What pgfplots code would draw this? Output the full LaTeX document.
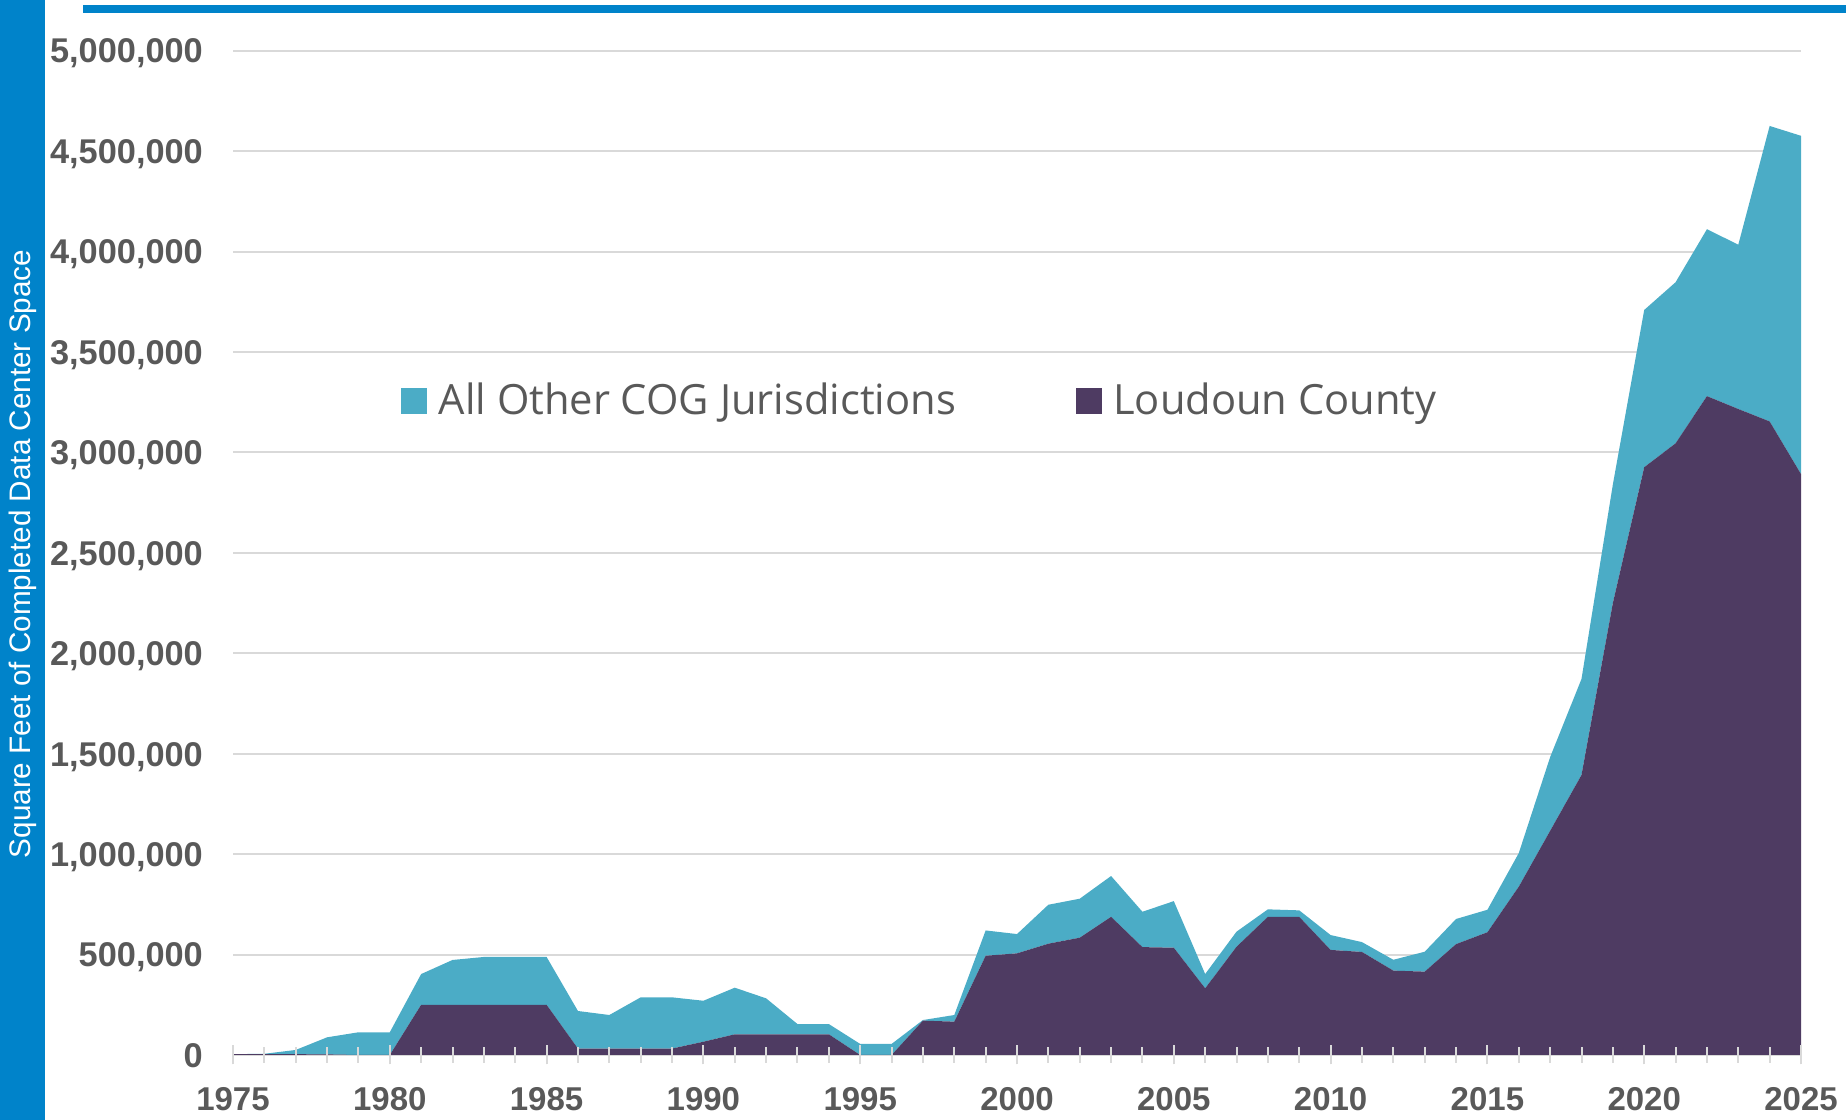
\documentclass[border=0pt]{standalone}
\usepackage{pgfplots}
\pgfplotsset{compat=1.18}
\usepackage{pgfplotstable}
\usepackage{fontspec}
\setmainfont{Liberation Sans}
\newfontfamily\legendfont{Open Sans}
\definecolor{tealc}{HTML}{4BACC6}
\definecolor{purp}{HTML}{4E3B62}
\definecolor{stripblue}{HTML}{0083CA}
\definecolor{gridg}{HTML}{D9D9D9}
\definecolor{txtg}{HTML}{595959}

\pgfplotstableread{
year loudoun other
1975 4000 0
1976 4000 2000
1977 4000 21000
1978 3000 85000
1979 0 113000
1980 0 113000
1981 250000 153000
1982 250000 223000
1983 250000 238000
1984 250000 238000
1985 250000 238000
1986 32000 187000
1987 32000 167000
1988 32000 255000
1989 32000 255000
1990 66000 204000
1991 103000 232000
1992 103000 179000
1993 103000 51000
1994 103000 51000
1995 0 55000
1996 0 55000
1997 171000 3000
1998 166000 33000
1999 494000 126000
2000 506000 96000
2001 554000 194000
2002 584000 194000
2003 688000 203000
2004 537000 176000
2005 534000 232000
2006 332000 71000
2007 539000 75000
2008 688000 37000
2009 688000 32000
2010 523000 74000
2011 513000 49000
2012 420000 54000
2013 415000 99000
2014 552000 125000
2015 611000 112000
2016 838000 167000
2017 1116000 367000
2018 1394000 478000
2019 2250000 590000
2020 2926000 783000
2021 3045000 802000
2022 3280000 831000
2023 3216000 818000
2024 3154000 1471000
2025 2892000 1684000
}\data

\pgfplotsset{
 myframe/.style={
  at={(69.9pt,19.5pt)}, anchor=south west,
  scale only axis, width=470.4pt, height=301.3pt,
  xmin=1975, xmax=2025, ymin=0, ymax=5000000,
  axis lines*=left,
  y axis line style={draw=none},
  xtick={1975,1980,1985,1990,1995,2000,2005,2010,2015,2020,2025},
  minor x tick num=4,
  tick align=center,
  xtick style={gridg, line width=0.6pt},
  major tick length=5.7pt, minor tick length=4.8pt,
 }
}

\begin{document}
\begin{tikzpicture}
\path[use as bounding box] (0pt,0pt) rectangle (553.8pt,336pt);
\fill[stripblue] (0pt,0pt) rectangle (13.5pt,336pt);
\fill[stripblue] (24.9pt,332pt) rectangle (553.8pt,334.4pt);
\node[rotate=90, text=white, font=\fontsize{8.9}{10}\selectfont, inner sep=0pt] at (6.9pt,169.8pt) {Square Feet of Completed Data Center Space};
\begin{axis}[
 myframe,
 stack plots=y,
 x axis line style={-, gridg, line width=0.6pt},
 ytick={0,500000,1000000,1500000,2000000,2500000,3000000,3500000,4000000,4500000,5000000},
 ymajorgrids, grid style={gridg, line width=0.6pt},
 ytick style={draw=none},
 scaled y ticks=false,
 /pgf/number format/assume math mode=true,
 yticklabel style={/pgf/number format/fixed, /pgf/number format/1000 sep={,}, font=\fontsize{10.3}{12}\selectfont\bfseries, text=txtg, anchor=base east, inner sep=0pt, xshift=-6.0pt, yshift=-3.7pt},
 xticklabel style={/pgf/number format/1000 sep={}, font=\fontsize{9.9}{12}\selectfont\bfseries, text=txtg, inner sep=0pt, anchor=north, yshift=-6.7pt},
 legend columns=2,
 reverse legend,
 legend image code/.code={\fill[#1] (0pt,-3.9pt) rectangle (7.8pt,3.9pt);},
 legend style={at={(0.107,0.651)}, anchor=west, draw=none, fill=none, inner sep=0pt,
   font=\legendfont\fontsize{12.5}{14}\selectfont, text=txtg,
   /tikz/every odd column/.append style={column sep=1.4pt},
   /tikz/every even column/.append style={column sep=34pt}},
 legend cell align=left,
]
\addplot[fill=purp, draw=none] table[x=year, y=loudoun]{\data} \closedcycle;
\addlegendentry{Loudoun County}
\addplot[fill=tealc, draw=none] table[x=year, y=other]{\data} \closedcycle;
\addlegendentry{All Other COG Jurisdictions}
\end{axis}
\begin{axis}[
 myframe,
 x axis line style={draw=none},
 ytick=\empty,
 xticklabel={\hbox{}},
]
\end{axis}
\end{tikzpicture}
\end{document}
